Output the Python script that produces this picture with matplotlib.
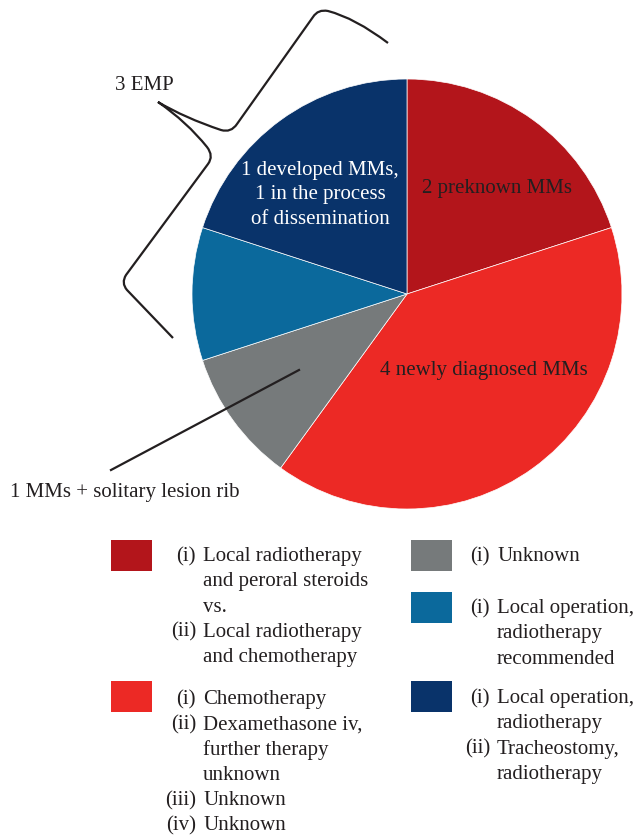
import matplotlib
matplotlib.use("Agg")
import matplotlib.pyplot as plt
from matplotlib.path import Path
from matplotlib.patches import PathPatch, Rectangle
from matplotlib.lines import Line2D

# ---------------- data ----------------
categories = ["2 preknown MMs", "4 newly diagnosed MMs", "1 MMs + solitary lesion rib",
              "Local operation", "1 developed MMs,\n1 in the process\nof dissemination"]
values = [2, 4, 1, 1, 2]
colors = ["#B3151B", "#EC2925", "#767A7B", "#0B699C", "#09336A"]
group_label = "3 EMP"

legend_dark_red = [("(i)", "Local radiotherapy"), ("", "and peroral steroids"), ("", "vs."),
                   ("(ii)", "Local radiotherapy"), ("", "and chemotherapy")]
legend_red = [("(i)", "Chemotherapy"), ("(ii)", "Dexamethasone iv,"), ("", "further therapy"),
              ("", "unknown"), ("(iii)", "Unknown"), ("(iv)", "Unknown")]
legend_gray = [("(i)", "Unknown")]
legend_blue = [("(i)", "Local operation,"), ("", "radiotherapy"), ("", "recommended")]
legend_navy = [("(i)", "Local operation,"), ("", "radiotherapy"), ("(ii)", "Tracheostomy,"),
               ("", "radiotherapy")]

# ---------------- figure ----------------
W, H = 636, 835
fig = plt.figure(figsize=(W / 100, H / 100), dpi=100)
plt.rcParams['font.family'] = ['Liberation Serif', 'DejaVu Serif']
TXT = "#231F20"
FS = 15


def fx(x):
    return x / W


def fy(y):
    return 1 - y / H


cx, cy, R = 407, 294, 215
ax = fig.add_axes([fx(cx - R), fy(cy + R), 2 * R / W, 2 * R / H])
ax.pie(values, colors=colors, startangle=90, counterclock=False, radius=1,
       wedgeprops=dict(edgecolor="white", linewidth=0.5))
ax.set_xlim(-1, 1)
ax.set_ylim(-1, 1)
ax.set_aspect("equal")
ax.axis("off")

# in-pie labels
fig.text(fx(497), fy(188), categories[0], ha="center", va="center", fontsize=FS, color=TXT)
fig.text(fx(484), fy(371), categories[1], ha="center", va="center", fontsize=FS, color=TXT)
fig.text(fx(320), fy(195), categories[4], ha="center", va="center", fontsize=FS,
         color="white", linespacing=1.42)

# outside labels
fig.text(fx(115), fy(86), group_label, ha="left", va="center", fontsize=FS, color=TXT)
fig.text(fx(10), fy(493), categories[2], ha="left", va="center", fontsize=FS, color=TXT)
fig.add_artist(Line2D([fx(111), fx(299)], [fy(470), fy(370)], color=TXT, lw=1.6,
                      transform=fig.transFigure))

# curly brace
pts = [((388, 43), Path.MOVETO),
       ((355, 18), Path.CURVE3), ((328, 11), Path.CURVE3),
       ((318, 9), Path.CURVE3), ((313, 17), Path.CURVE3),
       ((237, 124), Path.LINETO),
       ((231, 133), Path.CURVE3), ((221, 130), Path.CURVE3),
       ((185, 118), Path.CURVE3), ((158, 102), Path.CURVE3),
       ((187, 122), Path.CURVE3), ((207, 147), Path.CURVE3),
       ((214, 156), Path.CURVE3), ((208, 164), Path.CURVE3),
       ((126, 275), Path.LINETO),
       ((121, 283), Path.CURVE3), ((127, 290), Path.CURVE3),
       ((173, 338), Path.LINETO)]
verts = [(fx(p[0]), fy(p[1])) for p, _ in pts]
codes = [c for _, c in pts]
fig.add_artist(PathPatch(Path(verts, codes), fill=False, edgecolor=TXT, lw=1.6,
                         transform=fig.transFigure))

# legend
STEP = 25.3


def legend_group(color, lines, sq_x, sq_y, num_x, txt_x, base_y):
    fig.add_artist(Rectangle((fx(sq_x), fy(sq_y + 31)), 41 / W, 31 / H, facecolor=color,
                             edgecolor="none", transform=fig.transFigure))
    for i, (num, txt) in enumerate(lines):
        y = fy(base_y + i * STEP)
        if num:
            fig.text(fx(num_x), y, num, ha="right", va="baseline", fontsize=FS, color=TXT)
        fig.text(fx(txt_x), y, txt, ha="left", va="baseline", fontsize=FS, color=TXT)


legend_group(colors[0], legend_dark_red, 111, 540, 196, 203, 561)
legend_group(colors[1], legend_red, 111, 681, 196, 203, 704)
legend_group(colors[2], legend_gray, 411, 540, 490, 497, 561)
legend_group(colors[3], legend_blue, 411, 592, 490, 497, 613)
legend_group(colors[4], legend_navy, 411, 681, 490, 497, 703)

fig.savefig("out.png", dpi=100)
